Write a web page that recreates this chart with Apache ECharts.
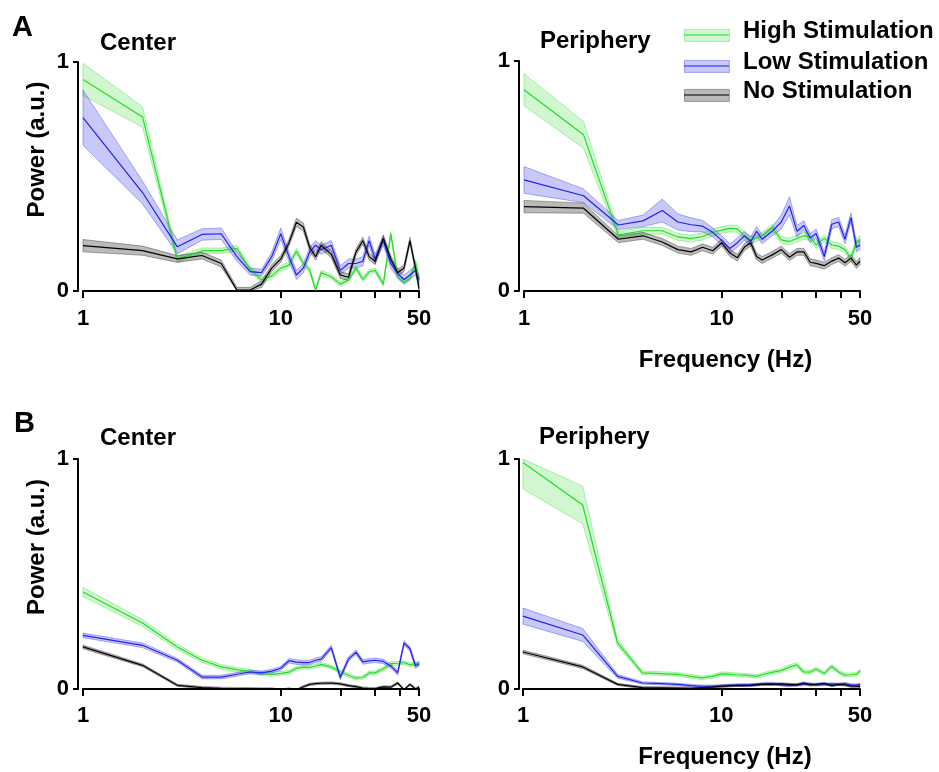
<!DOCTYPE html>
<html>
<head>
<meta charset="utf-8">
<script src="https://cdn.jsdelivr.net/npm/echarts@6/dist/echarts.min.js"></script>
<style>
  html, body { margin: 0; padding: 0; background: #fff; }
  #main { width: 939px; height: 772px; }
</style>
</head>
<body>
<div id="main"></div>
<script>
// frequencies (Hz) where the spectra are sampled
const freq = [1, 2, 3, 4, 5, 6, 7, 8, 9, 10, 11, 12, 13, 14, 15, 16, 18, 20, 22, 24, 26, 28, 30, 33, 36, 39, 42, 45, 48, 50];

const xTickValues = [1, 10, 20, 30, 40, 50];
const xTickLabels = [1, 10, 50];
const yTickValues = [0, 1];
const groupNames = ['High Stimulation', 'Low Stimulation', 'No Stimulation'];
const panelTitles = ['Center', 'Periphery', 'Center', 'Periphery'];
const panelLetters = ['A', 'B'];

// A - Center
const aCenterHigh = [0.924, 0.76, 0.138, 0.176, 0.176, 0.186, 0.095, 0.048, 0.065, 0.1, 0.113, 0.175, 0.12, 0.092, 0.004, 0.08, 0.062, 0.03, 0.048, 0.1, 0.051, 0.084, 0.09, 0.03, 0.25, 0.062, 0.04, 0.055, 0.125, 0.055];
const aCenterHighErr = [0.07, 0.045, 0.012, 0.012, 0.012, 0.012, 0.012, 0.012, 0.012, 0.012, 0.012, 0.012, 0.012, 0.012, 0.01, 0.01, 0.01, 0.01, 0.01, 0.01, 0.01, 0.01, 0.01, 0.01, 0.01, 0.01, 0.01, 0.01, 0.01, 0.01];
const aCenterLow = [0.757, 0.43, 0.193, 0.247, 0.25, 0.15, 0.085, 0.08, 0.15, 0.25, 0.15, 0.07, 0.1, 0.17, 0.2, 0.18, 0.2, 0.09, 0.12, 0.12, 0.13, 0.22, 0.14, 0.22, 0.12, 0.077, 0.05, 0.07, 0.09, 0.05];
const aCenterLowErr = [0.12, 0.05, 0.03, 0.025, 0.025, 0.02, 0.015, 0.015, 0.02, 0.025, 0.02, 0.02, 0.02, 0.02, 0.02, 0.02, 0.02, 0.02, 0.02, 0.02, 0.02, 0.02, 0.02, 0.02, 0.02, 0.02, 0.02, 0.02, 0.02, 0.02];
const aCenterNone = [0.198, 0.176, 0.14, 0.155, 0.12, 0.004, 0.004, 0.03, 0.1, 0.14, 0.21, 0.3, 0.28, 0.19, 0.15, 0.2, 0.16, 0.07, 0.06, 0.17, 0.22, 0.15, 0.13, 0.23, 0.14, 0.08, 0.1, 0.22, 0.1, 0.01];
const aCenterNoneErr = [0.027, 0.02, 0.015, 0.015, 0.015, 0.012, 0.012, 0.015, 0.015, 0.015, 0.015, 0.018, 0.018, 0.015, 0.015, 0.015, 0.015, 0.015, 0.015, 0.015, 0.015, 0.015, 0.015, 0.015, 0.015, 0.015, 0.015, 0.015, 0.015, 0.015];

// A - Periphery
const aPeriHigh = [0.875, 0.679, 0.244, 0.262, 0.262, 0.235, 0.228, 0.237, 0.255, 0.265, 0.272, 0.27, 0.24, 0.222, 0.23, 0.24, 0.275, 0.222, 0.215, 0.228, 0.24, 0.235, 0.2, 0.23, 0.2, 0.195, 0.18, 0.14, 0.215, 0.225];
const aPeriHighErr = [0.07, 0.058, 0.015, 0.015, 0.015, 0.015, 0.015, 0.015, 0.015, 0.015, 0.015, 0.015, 0.015, 0.015, 0.015, 0.015, 0.015, 0.015, 0.015, 0.015, 0.015, 0.015, 0.015, 0.015, 0.015, 0.015, 0.015, 0.015, 0.015, 0.015];
const aPeriLow = [0.483, 0.414, 0.287, 0.305, 0.35, 0.3, 0.288, 0.282, 0.255, 0.22, 0.185, 0.21, 0.24, 0.215, 0.26, 0.225, 0.26, 0.3, 0.37, 0.26, 0.285, 0.23, 0.25, 0.15, 0.29, 0.3, 0.225, 0.32, 0.19, 0.2];
const aPeriLowErr = [0.058, 0.03, 0.02, 0.025, 0.05, 0.035, 0.03, 0.025, 0.02, 0.02, 0.02, 0.02, 0.02, 0.02, 0.02, 0.02, 0.02, 0.03, 0.04, 0.025, 0.02, 0.02, 0.02, 0.02, 0.02, 0.02, 0.02, 0.02, 0.02, 0.02];
const aPeriNone = [0.367, 0.36, 0.225, 0.24, 0.213, 0.18, 0.17, 0.19, 0.175, 0.21, 0.165, 0.145, 0.19, 0.21, 0.15, 0.135, 0.157, 0.18, 0.147, 0.17, 0.17, 0.125, 0.12, 0.11, 0.13, 0.143, 0.123, 0.143, 0.113, 0.13];
const aPeriNoneErr = [0.027, 0.022, 0.015, 0.015, 0.015, 0.015, 0.015, 0.015, 0.015, 0.015, 0.015, 0.015, 0.015, 0.015, 0.015, 0.015, 0.015, 0.015, 0.015, 0.015, 0.015, 0.015, 0.015, 0.015, 0.015, 0.015, 0.015, 0.015, 0.015, 0.015];

// B - Center
const bCenterHigh = [0.422, 0.287, 0.183, 0.125, 0.096, 0.084, 0.077, 0.067, 0.064, 0.068, 0.073, 0.09, 0.095, 0.094, 0.1, 0.107, 0.095, 0.075, 0.06, 0.047, 0.05, 0.07, 0.07, 0.088, 0.11, 0.112, 0.115, 0.105, 0.11, 0.108];
const bCenterHighErr = [0.02, 0.015, 0.012, 0.01, 0.01, 0.01, 0.008, 0.008, 0.008, 0.008, 0.008, 0.008, 0.008, 0.008, 0.008, 0.008, 0.008, 0.008, 0.008, 0.008, 0.008, 0.008, 0.008, 0.008, 0.008, 0.008, 0.008, 0.008, 0.008, 0.008];
const bCenterLow = [0.233, 0.19, 0.125, 0.052, 0.052, 0.064, 0.074, 0.07, 0.078, 0.09, 0.123, 0.117, 0.115, 0.115, 0.125, 0.13, 0.18, 0.05, 0.13, 0.16, 0.118, 0.122, 0.125, 0.12, 0.1, 0.07, 0.2, 0.175, 0.1, 0.11];
const bCenterLowErr = [0.01, 0.01, 0.008, 0.008, 0.008, 0.008, 0.008, 0.008, 0.008, 0.008, 0.01, 0.01, 0.01, 0.01, 0.01, 0.01, 0.01, 0.01, 0.01, 0.01, 0.01, 0.01, 0.01, 0.01, 0.01, 0.01, 0.01, 0.01, 0.01, 0.01];
const bCenterNone = [0.183, 0.103, 0.016, 0.006, 0.003, 0.002, 0.001, 0.0, 0.0, -0.008, 0.0, -0.005, 0.01, 0.02, 0.023, 0.025, 0.026, 0.022, 0.015, 0.01, 0.004, 0.002, 0.002, 0.009, 0.008, 0.026, -0.004, 0.02, 0.0, 0.008];
const bCenterNoneErr = [0.008, 0.006, 0.005, 0.005, 0.005, 0.005, 0.005, 0.005, 0.005, 0.005, 0.005, 0.005, 0.005, 0.005, 0.005, 0.005, 0.005, 0.005, 0.005, 0.005, 0.005, 0.005, 0.005, 0.005, 0.005, 0.005, 0.005, 0.005, 0.005, 0.005];

// B - Periphery
const bPeriHigh = [0.985, 0.8, 0.2, 0.07, 0.067, 0.064, 0.055, 0.048, 0.055, 0.066, 0.065, 0.062, 0.06, 0.058, 0.055, 0.062, 0.072, 0.08, 0.095, 0.105, 0.074, 0.073, 0.087, 0.067, 0.099, 0.074, 0.06, 0.062, 0.065, 0.078];
const bPeriHighErr = [0.115, 0.082, 0.015, 0.008, 0.008, 0.008, 0.008, 0.008, 0.008, 0.008, 0.008, 0.008, 0.008, 0.008, 0.008, 0.008, 0.008, 0.008, 0.01, 0.01, 0.008, 0.008, 0.008, 0.008, 0.008, 0.008, 0.008, 0.008, 0.008, 0.008];
const bPeriLow = [0.317, 0.235, 0.055, 0.026, 0.023, 0.02, 0.015, 0.012, 0.012, 0.014, 0.016, 0.017, 0.018, 0.018, 0.02, 0.022, 0.024, 0.018, 0.015, 0.018, 0.02, 0.022, 0.018, 0.02, 0.022, 0.02, 0.024, 0.018, 0.017, 0.02];
const bPeriLowErr = [0.035, 0.028, 0.008, 0.005, 0.005, 0.005, 0.005, 0.005, 0.005, 0.005, 0.005, 0.005, 0.005, 0.005, 0.005, 0.005, 0.005, 0.005, 0.005, 0.005, 0.005, 0.005, 0.005, 0.005, 0.005, 0.005, 0.005, 0.005, 0.005, 0.005];
const bPeriNone = [0.161, 0.096, 0.02, 0.006, 0.005, 0.004, 0.003, 0.006, 0.008, 0.012, 0.014, 0.016, 0.015, 0.016, 0.018, 0.02, 0.02, 0.022, 0.02, 0.018, 0.026, 0.018, 0.02, 0.024, 0.015, 0.02, 0.018, 0.012, 0.012, 0.01];
const bPeriNoneErr = [0.008, 0.007, 0.005, 0.005, 0.005, 0.005, 0.005, 0.005, 0.005, 0.005, 0.005, 0.005, 0.005, 0.005, 0.005, 0.005, 0.005, 0.005, 0.005, 0.005, 0.005, 0.005, 0.005, 0.005, 0.005, 0.005, 0.005, 0.005, 0.005, 0.005];

const FONT = '"Liberation Sans", Arial, sans-serif';
const colors = [
  { line: '#22dd22', band: 'rgba(40, 220, 40, 0.22)', edge: 'rgba(40, 220, 40, 0.45)' },
  { line: '#2020ee', band: 'rgba(40, 40, 230, 0.25)', edge: 'rgba(40, 40, 230, 0.45)' },
  { line: '#000000', band: 'rgba(0, 0, 0, 0.27)', edge: 'rgba(0, 0, 0, 0.4)' }
];

// panel geometry (grid = plotting area, offsets = Prism style detached axes)
const panels = [
  { left: 83, top: 62, width: 336, height: 229, xOff: 7, yOff: 5, data: [[aCenterHigh, aCenterHighErr], [aCenterLow, aCenterLowErr], [aCenterNone, aCenterNoneErr]], yName: true, xName: false },
  { left: 524, top: 61, width: 336, height: 230, xOff: 7, yOff: 5, data: [[aPeriHigh, aPeriHighErr], [aPeriLow, aPeriLowErr], [aPeriNone, aPeriNoneErr]], yName: false, xName: true },
  { left: 83, top: 459, width: 336, height: 230, xOff: 6, yOff: 5, data: [[bCenterHigh, bCenterHighErr], [bCenterLow, bCenterLowErr], [bCenterNone, bCenterNoneErr]], yName: true, xName: false },
  { left: 523, top: 459, width: 337, height: 230, xOff: 6, yOff: 4, data: [[bPeriHigh, bPeriHighErr], [bPeriLow, bPeriLowErr], [bPeriNone, bPeriNoneErr]], yName: false, xName: true }
];

// mean +/- err band as one polygon, placed through the axes with api.coord
function bandRenderer(mean, err, col) {
  return function (params, api) {
    const cs = params.coordSys;
    const clampY = function (pt) { return [pt[0], Math.max(cs.y, Math.min(cs.y + cs.height, pt[1]))]; };
    const upper = freq.map(function (f, i) { return clampY(api.coord([f, mean[i] + err[i]])); });
    const lower = freq.map(function (f, i) { return clampY(api.coord([f, mean[i] - err[i]])); }).reverse();
    return {
      type: 'polygon',
      shape: { points: upper.concat(lower) },
      style: { fill: col.band, stroke: col.edge, lineWidth: 0.8 }
    };
  };
}

const grids = [], xAxes = [], yAxes = [], series = [];

panels.forEach(function (p, k) {
  grids.push({ left: p.left, top: p.top, width: p.width, height: p.height });
  xAxes.push({
    type: 'log', logBase: 10, gridIndex: k, min: 1, max: 50, offset: p.xOff,
    axisLine: { lineStyle: { color: '#000', width: 2 } },
    axisTick: { customValues: xTickValues, length: 7, lineStyle: { color: '#000', width: 2 } },
    minorTick: { show: false },
    axisLabel: { customValues: xTickLabels, color: '#000', fontSize: 22, fontWeight: 'bold', fontFamily: FONT, margin: 10 },
    splitLine: { show: false },
    name: p.xName ? 'Frequency (Hz)' : '',
    nameLocation: 'middle', nameGap: 50,
    nameTextStyle: { color: '#000', fontSize: 24, fontWeight: 'bold', fontFamily: FONT, padding: [0, 0, 0, 67] }
  });
  yAxes.push({
    type: 'value', gridIndex: k, min: 0, max: 1, interval: 1, offset: p.yOff,
    axisLine: { show: true, lineStyle: { color: '#000', width: 2 } },
    axisTick: { show: true, customValues: yTickValues, length: 5, lineStyle: { color: '#000', width: 2 } },
    axisLabel: { color: '#000', fontSize: 22, fontWeight: 'bold', fontFamily: FONT, margin: 9 },
    splitLine: { show: false },
    name: p.yName ? 'Power (a.u.)' : '',
    nameLocation: 'middle', nameGap: 29, nameRotate: 90,
    nameTextStyle: { color: '#000', fontSize: 24, fontWeight: 'bold', fontFamily: FONT, padding: [0, 0, 0, 54] }
  });

  // shaded error bands first
  p.data.forEach(function (pair, g) {
    series.push({
      type: 'custom', xAxisIndex: k, yAxisIndex: k, silent: true, z: 1,
      renderItem: bandRenderer(pair[0], pair[1], colors[g]),
      data: [[freq[0], pair[0][0]]]
    });
  });
  // mean lines on top
  p.data.forEach(function (pair, g) {
    series.push({
      type: 'line', name: groupNames[g], xAxisIndex: k, yAxisIndex: k,
      symbol: 'none', z: 3,
      lineStyle: { color: colors[g].line, width: 1.2 },
      data: freq.map(function (f, i) { return [f, pair[0][i]]; })
    });
  });
});

const titleStyle = { color: '#000', fontSize: 24, fontWeight: 'bold', fontFamily: FONT };
const titles = [
  { text: panelLetters[0], left: 7, top: 8, textStyle: Object.assign({}, titleStyle, { fontSize: 29 }) },
  { text: panelLetters[1], left: 9, top: 404, textStyle: Object.assign({}, titleStyle, { fontSize: 29 }) },
  { text: panelTitles[0], left: 95, top: 26, textStyle: titleStyle },
  { text: panelTitles[1], left: 535, top: 24, textStyle: titleStyle },
  { text: panelTitles[2], left: 95, top: 421, textStyle: titleStyle },
  { text: panelTitles[3], left: 534, top: 420, textStyle: titleStyle }
];

// legend drawn as band + line + label, like the original
const legendRows = [35, 66, 95];
const legendGraphics = [];
groupNames.forEach(function (name, g) {
  const y = legendRows[g];
  legendGraphics.push({ type: 'rect', left: 684, top: y - 6, shape: { width: 45, height: 12 }, style: { fill: colors[g].band, stroke: colors[g].edge, lineWidth: 0.8 } });
  legendGraphics.push({ type: 'line', shape: { x1: 684, y1: y, x2: 729, y2: y }, style: { stroke: colors[g].line, lineWidth: 1.2 } });
  legendGraphics.push({ type: 'text', left: 743, top: y - 16, style: { text: name, fill: '#000', font: 'bold 24px ' + FONT } });
});

const chart = echarts.init(document.getElementById('main'), null, { renderer: 'canvas' });
chart.setOption({
  backgroundColor: '#fff',
  animation: false,
  title: titles,
  grid: grids,
  xAxis: xAxes,
  yAxis: yAxes,
  series: series,
  graphic: legendGraphics
});
</script>
</body>
</html>
